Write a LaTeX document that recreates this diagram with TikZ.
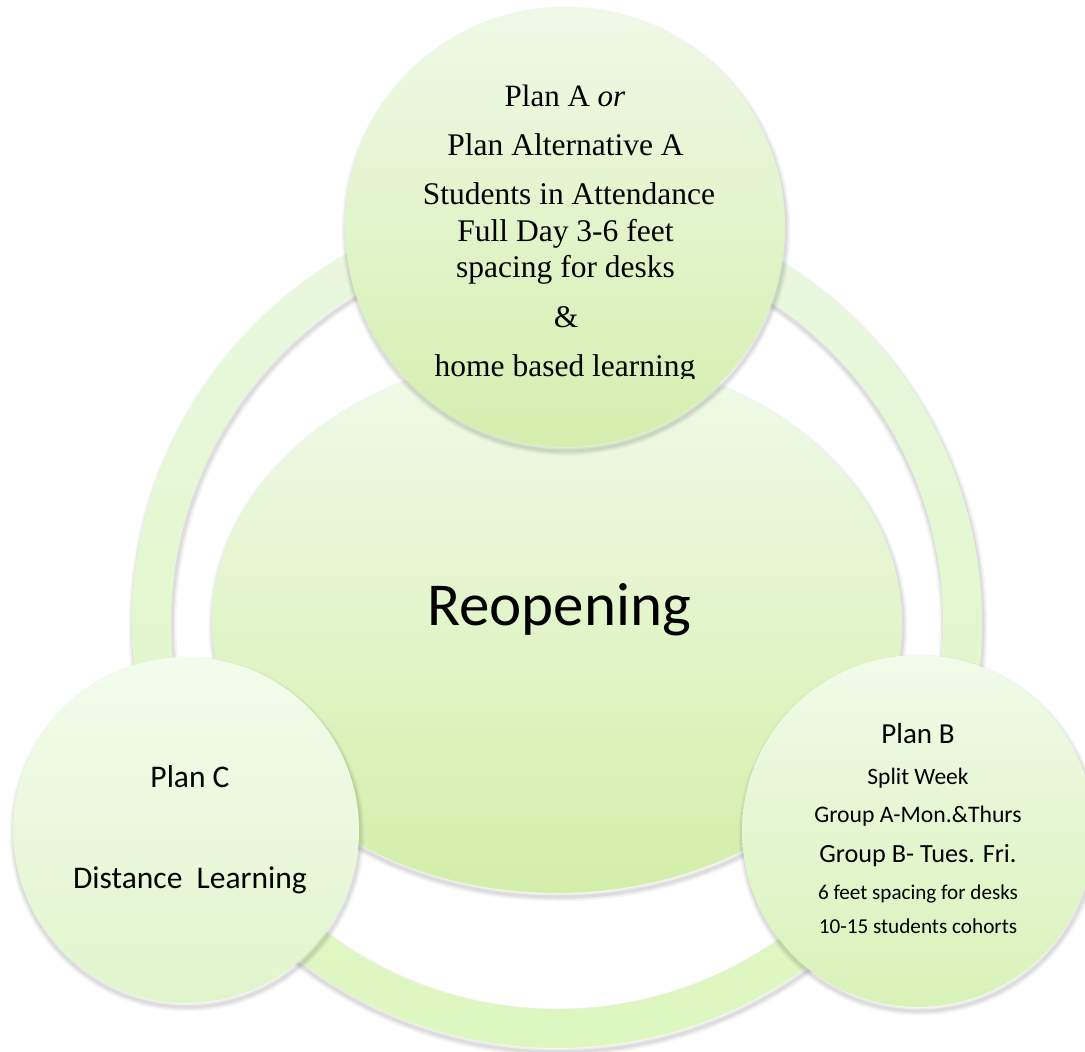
\documentclass[tikz,border=0pt]{standalone}
\usepackage{fontspec}
\setmainfont{Carlito}
\newfontfamily\timesfont{Liberation Serif}
\usetikzlibrary{shapes.geometric}
\definecolor{ringtop}{HTML}{EAF8E0}
\definecolor{ringbot}{HTML}{DDF7BF}
\definecolor{coretop}{HTML}{F1FAEA}
\definecolor{corebot}{HTML}{D3EFAA}
\definecolor{atop}{HTML}{EFF9E7}
\definecolor{abot}{HTML}{D4EFAE}
\definecolor{btop}{HTML}{F1FBEA}
\definecolor{bbot}{HTML}{D8F2B8}
\definecolor{ctop}{HTML}{F3FCEC}
\definecolor{cbot}{HTML}{E1F5CC}
\newcommand{\myshadow}[1]{\foreach \w/\o in {9/0.035,6/0.045,3/0.06}{\draw[line width=\w pt, draw=black, draw opacity=\o] #1;}}
\newcommand{\tmsz}[1]{\timesfont\fontsize{#1}{#1}\selectfont}
\newcommand{\clsz}[1]{\fontsize{#1}{#1}\selectfont}
\tikzset{
  bubble/.style={circle, draw=none, inner sep=0pt, outer sep=0pt},
  txt/.style={anchor=base, inner sep=0pt, text=black}
}
\begin{document}
\begin{tikzpicture}[x=1pt,y=-1pt]
\clip (0,0) rectangle (1085,1052);
\fill[white] (0,0) rectangle (1085,1052);
% ring
\myshadow{(558,627) circle[radius=425pt]}
\myshadow{(558,627) circle[radius=386pt]}
\path[even odd rule, top color=ringtop, bottom color=ringbot]
  (557,623) circle[radius=425pt] (557,623) circle[radius=386pt];
% core ellipse
\myshadow{(558,627) ellipse[x radius=345pt, y radius=270pt]}
\node[ellipse, draw=none, inner sep=0pt, minimum width=690pt, minimum height=540pt,
  top color=coretop, bottom color=corebot] (core) at (557,623) {};
% circle A
\myshadow{(566,231) circle[radius=220pt]}
\node[bubble, minimum size=440pt, top color=atop, bottom color=abot] (A) at (565,227) {};
% circle C
\myshadow{(187,834) circle[radius=173pt]}
\node[bubble, minimum size=346pt, top color=ctop, bottom color=cbot] (C) at (186,830) {};
% circle B
\myshadow{(919,835) circle[radius=176pt]}
\node[bubble, minimum size=352pt, top color=btop, bottom color=bbot] (B) at (918,831) {};
% texts A
\node[txt, font=\tmsz{31}] (a1) at (565,106) {Plan A \textit{or}};
\node[txt, font=\tmsz{31.5}] (a2) at (565.5,155) {Plan Alternative A};
\node[txt, font=\tmsz{31.5}] (a3) at (569,204) {Students in Attendance};
\node[txt, font=\tmsz{31.5}] (a4) at (565.5,241) {Full Day 3-6 feet};
\node[txt, font=\tmsz{31.5}] (a5) at (565.5,277) {spacing for desks};
\node[txt, font=\tmsz{31.5}] (a6) at (566,327) {\&};
\begin{scope}
\clip (300,0) rectangle (830,378.5);
\node[txt, font=\tmsz{31.5}] (a7) at (565,376) {home based learning};
\end{scope}
% core text
\node[txt, font=\clsz{61}] (r) at (559,625) {Reopening};
% texts C
\node[txt, font=\clsz{31.5}] (c1) at (190,787) {Plan C};
\node[txt, font=\clsz{31.5}] (c2) at (190,888) {Distance\ \ Learning};
% texts B
\node[txt, font=\clsz{29}] (b1) at (918,743) {Plan B};
\node[txt, font=\clsz{23.5}] (b2) at (918,784) {Split Week};
\node[txt, font=\clsz{23.7}] (b3) at (918,822) {Group A-Mon.\&Thurs};
\node[txt, font=\clsz{26.2}] (b4) at (918,862) {Group B- Tues. Fri.};
\node[txt, font=\clsz{21.1}] (b5) at (918,899) {6 feet spacing for desks};
\node[txt, font=\clsz{21.2}] (b6) at (918,933) {10-15 students cohorts};
\end{tikzpicture}
\end{document}
